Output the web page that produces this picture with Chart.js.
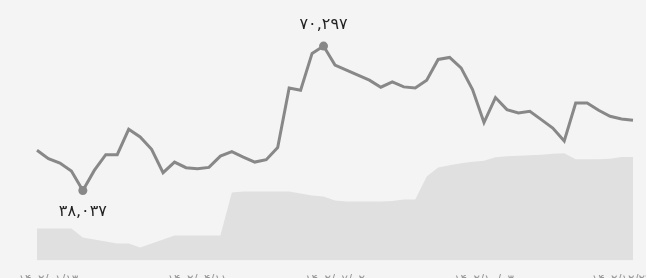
<!DOCTYPE html>
<html>
<head>
<meta charset="utf-8">
<script src="https://cdn.jsdelivr.net/npm/chart.js@4"></script>
<style>
  html, body { margin: 0; padding: 0; background: #f4f4f4; overflow: hidden; }
  canvas { display: block; }
</style>
</head>
<body>
<canvas id="nemudar" width="646" height="299"></canvas>
<script>
const dates = [
  '1402/01/06','1402/01/13','1402/01/20','1402/01/27','1402/02/03','1402/02/10','1402/02/17','1402/02/24','1402/02/31',
  '1402/03/07','1402/03/14','1402/03/21','1402/03/28','1402/04/04','1402/04/11','1402/04/18','1402/04/25',
  '1402/05/01','1402/05/08','1402/05/15','1402/05/22','1402/05/29','1402/06/05','1402/06/12','1402/06/19','1402/06/26',
  '1402/07/02','1402/07/09','1402/07/16','1402/07/23','1402/07/30','1402/08/07','1402/08/14','1402/08/21','1402/08/28',
  '1402/09/05','1402/09/12','1402/09/19','1402/09/26','1402/10/03','1402/10/10','1402/10/17','1402/10/24',
  '1402/11/01','1402/11/08','1402/11/15','1402/11/22','1402/11/29','1402/12/06','1402/12/13','1402/12/20','1402/12/27',
  '1403/01/05'
];

const prices = [
  47000, 45140, 44150, 42360, 38037, 42520, 46030, 46030, 51700, 49980,
  47220, 42000, 44380, 43120, 42900, 43190, 45720, 46710, 45500, 44380,
  44910, 47600, 60950, 60440, 68660, 70297, 66040, 64920, 63800, 62680,
  61110, 62300, 61180, 60950, 62680, 67310, 67760, 65430, 60590, 53200,
  58800, 56110, 55350, 55730, 53870, 51990, 49080, 57590, 57590, 55960,
  54610, 54010, 53720
];

const volumes = [
  3200, 3200, 3200, 3200, 2300, 2100, 1900, 1700, 1700, 1300,
  1700, 2100, 2500, 2500, 2500, 2500, 2500, 6800, 6900, 6900,
  6900, 6900, 6900, 6700, 6500, 6400, 6000, 5900, 5900, 5900,
  5900, 5950, 6100, 6100, 8400, 9300, 9500, 9700, 9850, 9950,
  10300, 10400, 10450, 10500, 10550, 10650, 10700, 10100, 10100, 10100,
  10150, 10330, 10330
];

// which date labels are shown under the chart
const shownTicks = [1, 14, 26, 39, 51];

const faDigits = '۰۱۲۳۴۵۶۷۸۹';
function toFa(s) {
  return String(s).replace(/[0-9]/g, d => faDigits[d]);
}
function fmt(n) {
  return toFa(n.toString().replace(/\B(?=(\d{3})+(?!\d))/g, ','));
}

const minIdx = prices.indexOf(Math.min(...prices));
const maxIdx = prices.indexOf(Math.max(...prices));

const minMaxLabels = {
  id: 'minMaxLabels',
  afterDatasetsDraw(chart) {
    const meta = chart.getDatasetMeta(0);
    const ctx = chart.ctx;
    ctx.save();
    ctx.font = '16px "DejaVu Sans"';
    ctx.fillStyle = '#222';
    ctx.textAlign = 'center';
    ctx.textBaseline = 'middle';
    const lo = meta.data[minIdx];
    ctx.fillText(fmt(prices[minIdx]), lo.x, lo.y + 21);
    const hi = meta.data[maxIdx];
    ctx.fillText(fmt(prices[maxIdx]), hi.x, hi.y - 21);
    ctx.restore();
  }
};

new Chart(document.getElementById('nemudar'), {
  type: 'line',
  data: {
    labels: dates,
    datasets: [{
      data: prices,
      yAxisID: 'y',
      borderColor: '#888',
      borderWidth: 3,
      tension: 0,
      fill: false,
      pointRadius: c => (c.dataIndex === minIdx || c.dataIndex === maxIdx) ? 4.5 : 0,
      pointBackgroundColor: '#888',
      pointBorderWidth: 0,
      pointHoverRadius: 0
    }, {
      data: volumes,
      yAxisID: 'y2',
      borderWidth: 0,
      borderColor: 'rgba(0,0,0,0)',
      backgroundColor: '#e0e0e0',
      fill: 'origin',
      pointRadius: 0,
      tension: 0
    }]
  },
  options: {
    responsive: false,
    animation: false,
    devicePixelRatio: 1,
    layout: { padding: { left: 37, right: 13, top: 10, bottom: 0 } },
    plugins: {
      legend: { display: false },
      tooltip: { enabled: false }
    },
    scales: {
      x: {
        offset: false,
        grid: { display: false, drawTicks: false },
        border: { display: false },
        ticks: {
          autoSkip: false,
          maxRotation: 0,
          padding: 12,
          color: '#999',
          font: { family: 'DejaVu Sans', size: 12 },
          callback: (v, i) => shownTicks.includes(i) ? toFa(dates[i]) : ''
        }
      },
      y: {
        display: false,
        min: 22360,
        max: 78360
      },
      y2: {
        display: false,
        min: 0,
        max: 25000
      }
    }
  },
  plugins: [minMaxLabels]
});
</script>
</body>
</html>
